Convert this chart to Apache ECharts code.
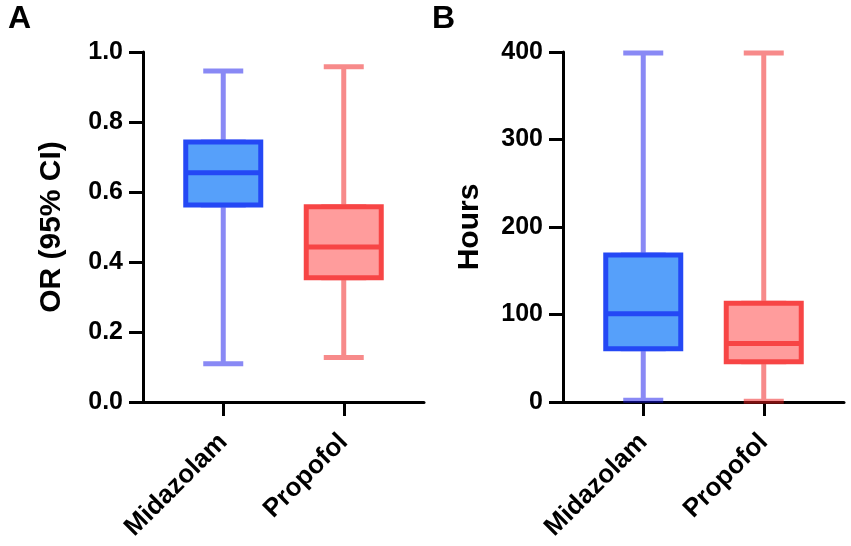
<!DOCTYPE html>
<html>
<head>
<meta charset="utf-8">
<script src="https://cdn.jsdelivr.net/npm/echarts@6/dist/echarts.min.js"></script>
<style>
html,body{margin:0;padding:0;background:#fff;}
#c{width:851px;height:546px;}
</style>
</head>
<body>
<div id="c"></div>
<script>
// ---- data ----
const categories = ['Midazolam', 'Propofol'];
// Panel A: OR (95% CI)
const orMin    = [0.109, 0.127];
const orQ1     = [0.563, 0.355];
const orMedian = [0.655, 0.443];
const orQ3     = [0.743, 0.558];
const orMax    = [0.946, 0.958];
// Panel B: Hours
const hrMin    = [2, 1];
const hrQ1     = [61, 46];
const hrMedian = [101, 67];
const hrQ3     = [168, 113];
const hrMax    = [399, 399];
// axis settings
const orAxis = { min: 0, max: 1.0, interval: 0.2, decimals: 1 };
const hrAxis = { min: 0, max: 400, interval: 100, decimals: 0 };
const panelLetters = ['A', 'B'];
const yNames = ['OR (95% CI)', 'Hours'];

// ---- styles ----
const FONT = 'Liberation Sans, Arial, Helvetica, sans-serif';
const boxFill   = ['#56a0fa', '#ff9c9c'];
const boxBorder = ['#2448f5', '#f74545'];
const whisker   = ['rgba(20,20,235,0.5)', 'rgba(240,30,30,0.52)'];

const panels = [
  { left: 143, axis: orAxis, data: [orMin, orQ1, orMedian, orQ3, orMax], nameGap: 76 },
  { left: 563, axis: hrAxis, data: [hrMin, hrQ1, hrMedian, hrQ3, hrMax], nameGap: 78 }
];
const TOP = 52, H = 350, W = 281, PAD = 20;

const grid = [], xAxis = [], yAxis = [], series = [];
panels.forEach((p, k) => {
  const gFrame = grid.length;
  grid.push({ left: p.left, top: TOP, width: W, height: H });
  const gInner = grid.length;
  grid.push({ left: p.left + PAD, top: TOP, width: W - 2 * PAD, height: H });

  // frame axes (full axis lines + y labels)
  xAxis.push({
    gridIndex: gFrame, type: 'value', min: 0, max: 1,
    axisLine: { show: true, onZero: false, lineStyle: { color: '#000', width: 3 } },
    axisTick: { show: false }, axisLabel: { show: false }, splitLine: { show: false }
  });
  yAxis.push({
    gridIndex: gFrame, type: 'value', min: p.axis.min, max: p.axis.max, interval: p.axis.interval,
    name: yNames[k], nameLocation: 'middle', nameGap: p.nameGap,
    nameTextStyle: { fontFamily: FONT, fontWeight: 'bold', fontSize: 30, color: '#000' },
    axisLine: { show: true, lineStyle: { color: '#000', width: 3 } },
    axisTick: { show: true, length: 14, lineStyle: { color: '#000', width: 3 } },
    axisLabel: { margin: 20, fontFamily: FONT, fontWeight: 'bold', fontSize: 25, color: '#000',
      formatter: v => Number(v).toFixed(p.axis.decimals) },
    splitLine: { show: false }
  });

  // inner axes (categories + boxes)
  const xi = xAxis.length;
  xAxis.push({
    gridIndex: gInner, type: 'category', data: categories, boundaryGap: true,
    axisLine: { show: false, onZero: false },
    axisTick: { show: true, alignWithLabel: true, length: 14, lineStyle: { color: '#000', width: 3 } },
    axisLabel: { rotate: 45, margin: 36, interval: 0, fontFamily: FONT, fontWeight: 'bold', fontSize: 26, color: '#000' },
    splitLine: { show: false }
  });
  const xi2 = xAxis.length;
  xAxis.push({
    gridIndex: gInner, type: 'category', data: categories, boundaryGap: true, show: false
  });
  const yi = yAxis.length;
  yAxis.push({
    gridIndex: gInner, type: 'value', min: p.axis.min, max: p.axis.max, show: false
  });

  const idxs = categories.map((_, i) => i);
  const d = p.data;
  // whiskers (narrow caps, semi-transparent)
  series.push({
    type: 'boxplot', xAxisIndex: xi, yAxisIndex: yi, boxWidth: [40, 40],
    silent: true, animation: false,
    data: idxs.map(i => ({
      value: [d[0][i], d[1][i], d[2][i], d[3][i], d[4][i]],
      itemStyle: { color: 'rgba(0,0,0,0)', borderColor: whisker[i], borderWidth: 5 }
    }))
  });
  // boxes (Q1..Q3 with median)
  series.push({
    type: 'boxplot', xAxisIndex: xi2, yAxisIndex: yi, boxWidth: [75, 75],
    silent: true, animation: false,
    data: idxs.map(i => ({
      value: [d[1][i], d[1][i], d[2][i], d[3][i], d[3][i]],
      itemStyle: { color: boxFill[i], borderColor: boxBorder[i], borderWidth: 5 }
    }))
  });
});

const chart = echarts.init(document.getElementById('c'), null, { renderer: 'canvas' });
chart.setOption({
  backgroundColor: '#fff',
  animation: false,
  title: [
    { text: panelLetters[0], left: 8, top: 3, padding: 0, textStyle: { fontFamily: FONT, fontWeight: 'bold', fontSize: 32, color: '#000' } },
    { text: panelLetters[1], left: 432, top: 3, padding: 0, textStyle: { fontFamily: FONT, fontWeight: 'bold', fontSize: 32, color: '#000' } }
  ],
  grid, xAxis, yAxis, series
});
</script>
</body>
</html>
